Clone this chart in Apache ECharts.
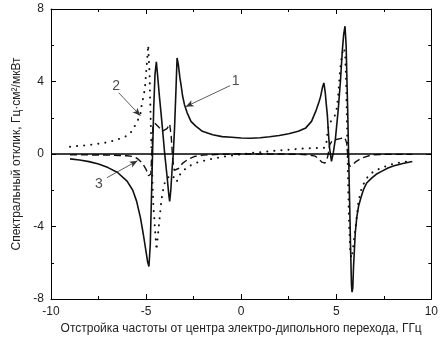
<!DOCTYPE html>
<html><head><meta charset="utf-8">
<script src="https://cdn.jsdelivr.net/npm/echarts@6/dist/echarts.min.js"></script>
<style>html,body{margin:0;padding:0;background:#fff}#c{width:441px;height:341px}</style>
</head><body><div id="c"></div>
<script>
// Curve 1 (solid)
const curve1X = [-9.0,-8.5,-8.0,-7.5,-7.0,-6.5,-6.0,-5.7,-5.5,-5.3,-5.15,-5.0,-4.92,-4.85,-4.78,-4.72,-4.66,-4.6,-4.53,-4.46,-4.4,-4.3,-4.2,-4.1,-4.02,-3.9,-3.8,-3.76,-3.7,-3.63,-3.57,-3.5,-3.43,-3.37,-3.3,-3.22,-3.16,-3.08,-2.98,-2.85,-2.64,-2.4,-2.04,-1.5,-1.0,-0.5,0,0.5,1.0,1.5,2.0,2.5,3.0,3.4,3.7,3.92,4.1,4.18,4.28,4.35,4.42,4.48,4.53,4.6,4.65,4.75,4.85,4.96,5.1,5.22,5.32,5.39,5.46,5.52,5.56,5.6,5.65,5.7,5.75,5.8,5.83,5.87,5.91,6.0,6.08,6.17,6.3,6.43,6.6,6.86,7.1,7.38,7.72,8.0,8.5,9.0];
const curve1Y = [-0.27,-0.33,-0.42,-0.55,-0.75,-1.02,-1.5,-2.0,-2.6,-3.5,-4.4,-5.4,-5.95,-6.21,-5.0,-2.5,0,2.5,4.4,5.08,4.4,3.2,2.1,0.95,0,-1.2,-2.3,-2.62,-2.0,-0.8,0,1.5,3.5,5.3,4.9,4.2,3.8,3.2,2.72,2.3,1.8,1.55,1.25,1.06,0.96,0.92,0.88,0.87,0.9,0.95,1.02,1.12,1.25,1.44,1.8,2.35,2.9,3.18,3.7,3.92,3.4,2.7,2.17,1.0,0.33,-0.41,0.1,0.88,2.4,4.0,5.7,6.59,7.05,6.0,4.2,2.5,0,-2.5,-5.0,-7.2,-7.62,-7.4,-6.21,-4.36,-3.5,-2.9,-2.4,-1.97,-1.6,-1.33,-1.12,-0.96,-0.77,-0.66,-0.52,-0.41];
// Curve 2 (dotted)
const curve2X = [-9.0,-8.5,-8.0,-7.5,-7.0,-6.5,-6.0,-5.75,-5.46,-5.3,-5.23,-5.15,-5.06,-4.97,-4.93,-4.89,-4.82,-4.76,-4.7,-4.62,-4.54,-4.45,-4.37,-4.28,-4.19,-4.1,-4.02,-3.85,-3.65,-3.5,-3.4,-3.3,-3.2,-3.0,-2.8,-2.4,-2.0,-1.5,-1.0,-0.5,0,0.5,1.0,1.5,2.0,2.5,3.0,3.5,4.0,4.4,4.48,4.55,4.62,4.75,4.87,5.0,5.1,5.2,5.3,5.4,5.47,5.52,5.57,5.62,5.68,5.74,5.8,5.86,5.91,6.0,6.08,6.17,6.34,6.6,6.94,7.3,7.8,8.3,9.0];
const curve2Y = [0.40,0.45,0.5,0.57,0.65,0.8,1.0,1.25,1.8,2.2,2.72,3.1,3.65,4.9,5.4,6.0,4.5,2.0,-0.5,-2.8,-4.0,-5.3,-4.4,-3.45,-2.5,-1.95,-1.6,-1.3,-1.15,-1.35,-1.55,-1.3,-1.1,-0.88,-0.7,-0.5,-0.38,-0.26,-0.16,-0.08,-0.02,0.05,0.1,0.15,0.2,0.24,0.28,0.32,0.33,0.34,0.6,1.3,1.65,1.85,1.99,2.3,3.2,4.6,5.5,5.85,5.5,4.0,1.5,-1.5,-4.0,-5.4,-5.75,-5.4,-4.9,-4.2,-3.45,-2.6,-1.85,-1.33,-0.98,-0.8,-0.6,-0.48,-0.38];
// Curve 3 (dashed)
const curve3X = [-9.0,-8.0,-7.0,-6.4,-6.0,-5.75,-5.55,-5.4,-5.2,-5.0,-4.87,-4.75,-4.7,-4.64,-4.54,-4.3,-4.11,-3.9,-3.76,-3.68,-3.6,-3.52,-3.42,-3.3,-3.07,-2.8,-2.47,-2.0,-1.0,0,1,2,3,3.5,3.9,4.1,4.25,4.4,4.5,4.58,4.65,4.8,5.0,5.2,5.45,5.55,5.6,5.65,5.72,5.85,6.0,6.34,6.86,7.5,8,9];
const curve3Y = [-0.05,-0.05,-0.06,-0.08,-0.1,-0.13,-0.2,-0.3,-0.5,-0.85,-1.2,-1.1,0.0,1.5,1.7,1.45,1.28,1.4,1.66,1.0,-0.3,-0.9,-1.0,-0.8,-0.5,-0.3,-0.14,-0.06,-0.01,0,0,0,-0.02,-0.04,-0.12,-0.3,-0.45,-0.5,-0.35,0.0,0.5,0.75,0.8,0.85,0.9,0.6,0.0,-0.5,-0.68,-0.6,-0.45,-0.22,-0.05,-0.02,-0.02,-0.02];
// Annotation labels and arrows
const labelNames = ['1','2','3'];
const labelX = [-0.29,-6.58,-7.48];
const labelY = [4.0,3.77,-1.66];
const arrowFromX = [-0.58,-6.44,-7.06];
const arrowFromY = [3.77,3.38,-1.31];
const arrowToX = [-2.92,-5.3,-5.45];
const arrowToY = [2.61,2.11,-0.37];
// Axes
const xMin = -10, xMax = 10, xStep = 5;
const yMin = -8, yMax = 8, yStep = 4;
const xTitle = 'Отстройка частоты от центра электро-дипольного перехода, ГГц';
const yTitle = 'Спектральный отклик, Гц·см²/мкВт';

const zip = (xs, ys) => xs.map((x, i) => [x, ys[i]]);
const font = 'Liberation Sans, Arial, sans-serif';
const tc = '#222';

const axisCommon = {
  axisLine: {show: true, onZero: false, lineStyle: {color: '#000', width: 1}},
  axisTick: {show: true, inside: true, length: 5, lineStyle: {color: '#000'}},
  minorTick: {show: true, splitNumber: 2, length: 3, lineStyle: {color: '#000'}},
  splitLine: {show: false}
};

const chart = echarts.init(document.getElementById('c'), null, {renderer: 'canvas'});
chart.setOption({
  animation: false,
  backgroundColor: '#fff',
  grid: {left: 51, right: 4, top: 9, bottom: 42, containLabel: false},
  xAxis: [
    Object.assign({type: 'value', min: xMin, max: xMax, interval: xStep, position: 'bottom',
      axisLabel: {color: tc, fontFamily: font, fontSize: 12, margin: 7},
      name: xTitle, nameLocation: 'middle', nameGap: 24,
      nameTextStyle: {color: tc, fontFamily: font, fontSize: 12}}, axisCommon),
    Object.assign({type: 'value', min: xMin, max: xMax, interval: xStep, position: 'top',
      axisLabel: {show: false}}, axisCommon)
  ],
  yAxis: [
    Object.assign({type: 'value', min: yMin, max: yMax, interval: yStep, position: 'left',
      axisLabel: {color: tc, fontFamily: font, fontSize: 12, margin: 7, formatter: v => String(v)},
      name: yTitle, nameLocation: 'middle', nameGap: 28, nameRotate: 90,
      nameTextStyle: {color: tc, fontFamily: font, fontSize: 12}}, axisCommon),
    Object.assign({type: 'value', min: yMin, max: yMax, interval: yStep, position: 'right',
      axisLabel: {show: false}}, axisCommon)
  ],
  series: [
    {type: 'line', data: zip(curve3X, curve3Y), showSymbol: false, smooth: false,
      lineStyle: {color: '#111', width: 1.4, type: [7, 4]}},
    {type: 'line', data: zip(curve2X, curve2Y), showSymbol: false, smooth: false,
      lineStyle: {color: '#111', width: 2, type: [0.1, 7], cap: 'round'}},
    {type: 'line', data: zip(curve1X, curve1Y), showSymbol: false, smooth: false,
      lineStyle: {color: '#111', width: 1.6},
      markLine: {silent: true, symbol: 'none', animation: false, label: {show: false},
        lineStyle: {color: '#000', width: 1.5, type: 'solid'},
        data: [{yAxis: 0}].concat(labelNames.map((n, i) => [
          {coord: [arrowFromX[i], arrowFromY[i]], symbol: 'none', lineStyle: {width: 0.8, color: '#333'}},
          {coord: [arrowToX[i], arrowToY[i]], symbol: 'arrow', symbolSize: [5, 8]}
        ]))}},
    {type: 'scatter', data: labelNames.map((n, i) => [labelX[i], labelY[i], n]), symbolSize: 0,
      label: {show: true, position: 'inside', formatter: p => p.data[2], color: '#222',
        fontFamily: font, fontSize: 14}}
  ]
});
</script></body></html>
